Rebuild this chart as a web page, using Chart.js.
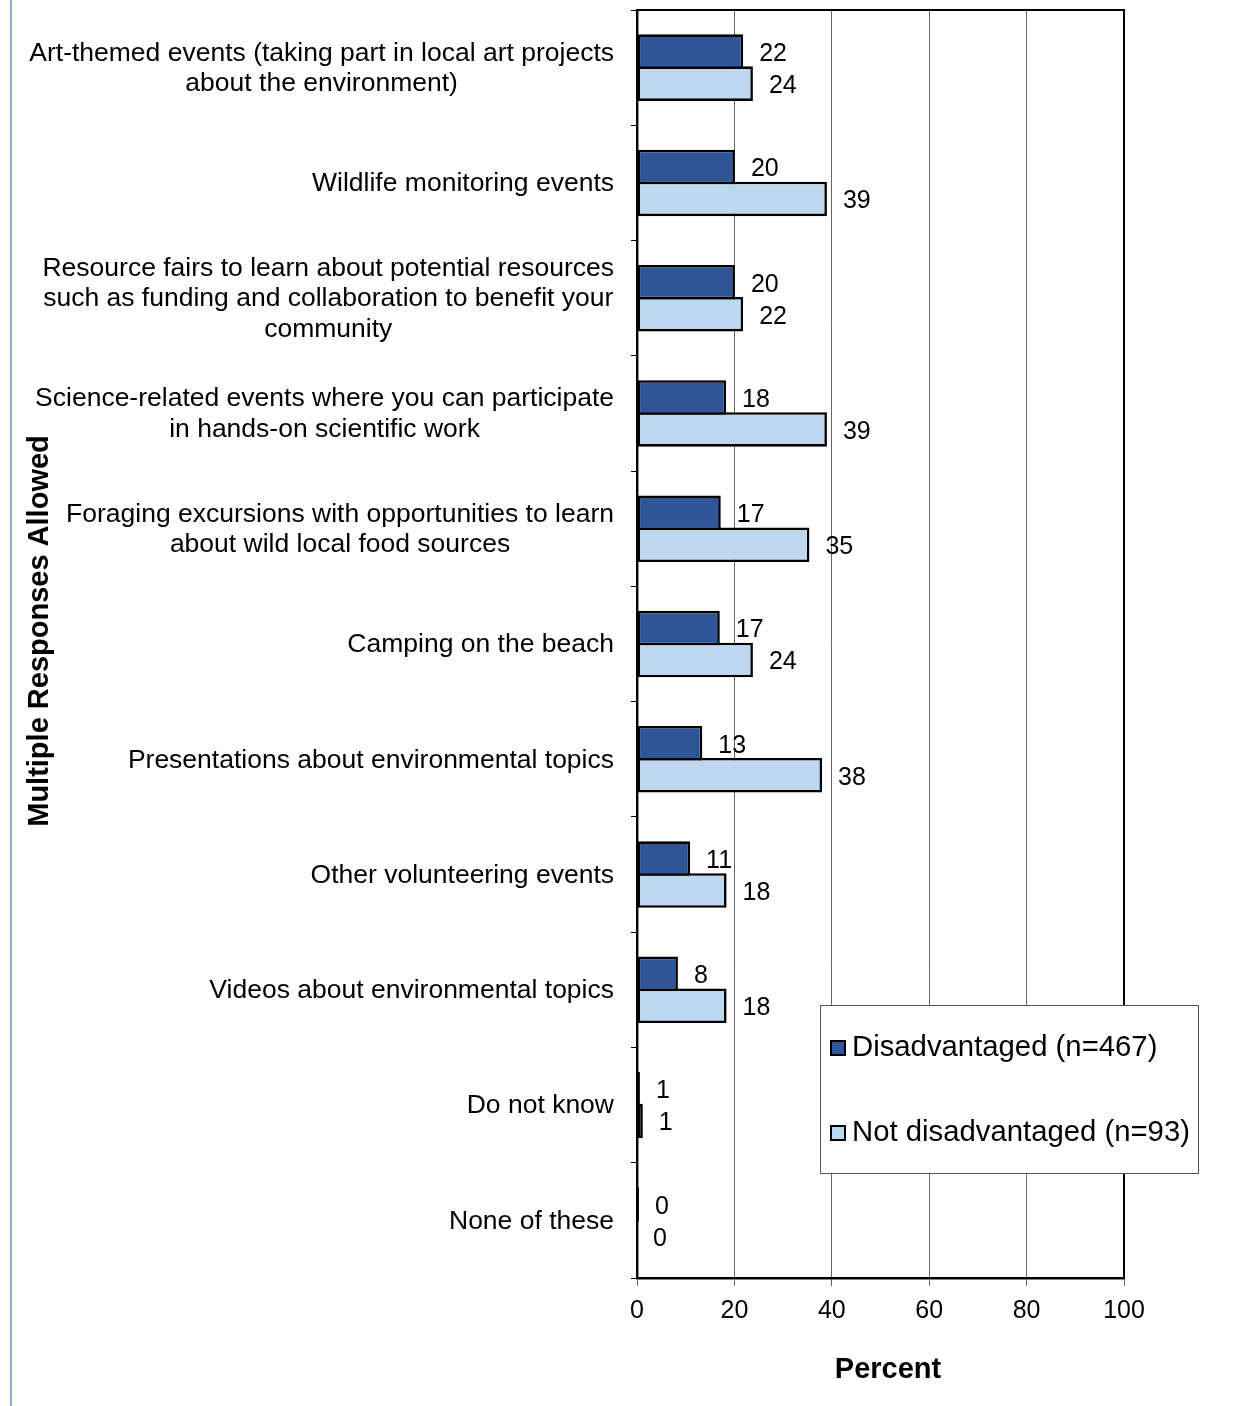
<!DOCTYPE html>
<html>
<head>
<meta charset="utf-8">
<script src="https://cdn.jsdelivr.net/npm/chart.js@4/dist/chart.umd.min.js"></script>
<style>
  html, body { margin: 0; padding: 0; background: #fff; }
  #wrap { width: 1256px; height: 1406px; position: relative; }
</style>
</head>
<body>
<div id="wrap"><canvas id="chart"></canvas></div>
<script>
/* ── Event interest chart ─────────────────────────── */

var categories = [
  ['Art-themed events (taking part in local art projects', 'about the environment)'],
  ['Wildlife monitoring events'],
  ['Resource fairs to learn about potential resources', 'such as funding and collaboration to benefit your', 'community'],
  ['Science-related events where you can participate', 'in hands-on scientific work'],
  ['Foraging excursions with opportunities to learn', 'about wild local food sources'],
  ['Camping on the beach'],
  ['Presentations about environmental topics'],
  ['Other volunteering events'],
  ['Videos about environmental topics'],
  ['Do not know'],
  ['None of these']
];

var disadvantaged    = [21.8, 20.1, 20.1, 18.3, 17.2, 17.0, 13.4, 10.9, 8.4, 0.6, 0.4];
var notDisadvantaged = [23.8, 39.0, 21.8, 39.0, 35.4, 23.8, 38.0, 18.4, 18.4, 1.2, 0];

var seriesNames = ['Disadvantaged (n=467)', 'Not disadvantaged (n=93)'];
var xTicks = [0, 20, 40, 60, 80, 100];

var FONT = '"Liberation Sans", Arial, sans-serif';

// Left page rule, frame, category labels, titles, value labels, legend
var decorPlugin = {
  id: 'decor',
  beforeDraw: function (chart) {
    var ctx = chart.ctx;
    ctx.save();
    ctx.fillStyle = '#8eaadb';
    ctx.fillRect(10, 0, 2, chart.height);
    ctx.restore();
  },
  afterDraw: function (chart) {
    var ctx = chart.ctx;
    var area = chart.chartArea;
    var yScale = chart.scales.y;

    ctx.save();
    // top + right frame
    ctx.strokeStyle = '#000';
    ctx.lineWidth = 2;
    ctx.beginPath();
    ctx.moveTo(area.left, area.top);
    ctx.lineTo(area.right, area.top);
    ctx.lineTo(area.right, area.bottom);
    ctx.stroke();

    // category labels: block right-aligned, lines centred within it
    ctx.fillStyle = '#000';
    ctx.font = '26.5px ' + FONT;
    ctx.textBaseline = 'middle';
    ctx.textAlign = 'center';
    var lineH = 30.7;
    var rightEdge = 614;
    categories.forEach(function (lines, i) {
      var cy = yScale.getPixelForValue(i) + 1;
      var w = 0;
      lines.forEach(function (l) { w = Math.max(w, ctx.measureText(l).width); });
      var cx = rightEdge - w / 2;
      var y0 = cy - (lines.length - 1) * lineH / 2;
      lines.forEach(function (l, k) { ctx.fillText(l, cx, y0 + k * lineH); });
    });

    // y title
    ctx.save();
    ctx.font = 'bold 29px ' + FONT;
    ctx.textBaseline = 'alphabetic';
    ctx.translate(48, 631);
    ctx.rotate(-Math.PI / 2);
    ctx.fillText('Multiple Responses Allowed', 0, 0);
    ctx.restore();

    // x title
    ctx.font = 'bold 29px ' + FONT;
    ctx.textBaseline = 'middle';
    ctx.fillText('Percent', 888, 1370);

    // value labels
    ctx.font = '25px ' + FONT;
    ctx.textAlign = 'left';
    ctx.textBaseline = 'middle';
    chart.data.datasets.forEach(function (ds, di) {
      chart.getDatasetMeta(di).data.forEach(function (bar, i) {
        ctx.fillText(String(Math.round(ds.data[i])), bar.x + 16, bar.y + 2.5);
      });
    });

    // legend box
    var lx = 820, ly = 1005, lw = 378, lh = 168;
    ctx.fillStyle = '#fff';
    ctx.fillRect(lx, ly, lw, lh);
    ctx.strokeStyle = '#555';
    ctx.lineWidth = 1;
    ctx.strokeRect(lx + 0.5, ly + 0.5, lw, lh);
    ctx.font = '29.3px ' + FONT;
    ctx.textBaseline = 'middle';
    var rows = [1048, 1133];
    chart.data.datasets.forEach(function (ds, di) {
      var y = rows[di];
      ctx.fillStyle = '#000';
      ctx.fillRect(830, y - 8, 16, 16);
      ctx.fillStyle = ds.backgroundColor;
      ctx.fillRect(832, y - 6, 12, 12);
      ctx.fillStyle = '#000';
      ctx.fillText(ds.label, 852, y);
    });
    ctx.restore();
  }
};

new Chart(document.getElementById('chart'), {
  type: 'bar',
  data: {
    labels: categories.map(function (c) { return c.join(' '); }),
    datasets: [{
      label: seriesNames[0],
      data: disadvantaged,
      backgroundColor: '#2f5597',
      borderColor: '#000',
      borderWidth: 2.6,
      borderSkipped: false,
      categoryPercentage: 0.555,
      barPercentage: 1.08
    }, {
      label: seriesNames[1],
      data: notDisadvantaged,
      backgroundColor: '#bdd7ee',
      borderColor: '#000',
      borderWidth: 2.6,
      borderSkipped: false,
      categoryPercentage: 0.555,
      barPercentage: 1.08
    }]
  },
  options: {
    indexAxis: 'y',
    responsive: true,
    maintainAspectRatio: false,
    animation: false,
    devicePixelRatio: 1,
    layout: { padding: { top: 10, right: 132, bottom: 0, left: 0 } },
    plugins: {
      legend: { display: false },
      tooltip: { enabled: false }
    },
    scales: {
      x: {
        min: 0,
        max: 100,
        afterBuildTicks: function (scale) {
          scale.ticks = xTicks.map(function (v) { return { value: v }; });
        },
        ticks: {
          color: '#000',
          padding: 10,
          font: { family: FONT, size: 25 }
        },
        grid: { color: '#666', lineWidth: 1, drawTicks: true, tickLength: 8 },
        border: { display: true, color: '#000', width: 2.4 },
        afterFit: function (scale) { scale.height = 128; }
      },
      y: {
        offset: true,
        ticks: { display: false },
        grid: { offset: true, drawOnChartArea: false, drawTicks: true, tickLength: 6, color: '#000' },
        border: { display: true, color: '#000', width: 2.4 },
        afterFit: function (scale) { scale.width = 637; }
      }
    }
  },
  plugins: [decorPlugin]
});
</script>
</body>
</html>
